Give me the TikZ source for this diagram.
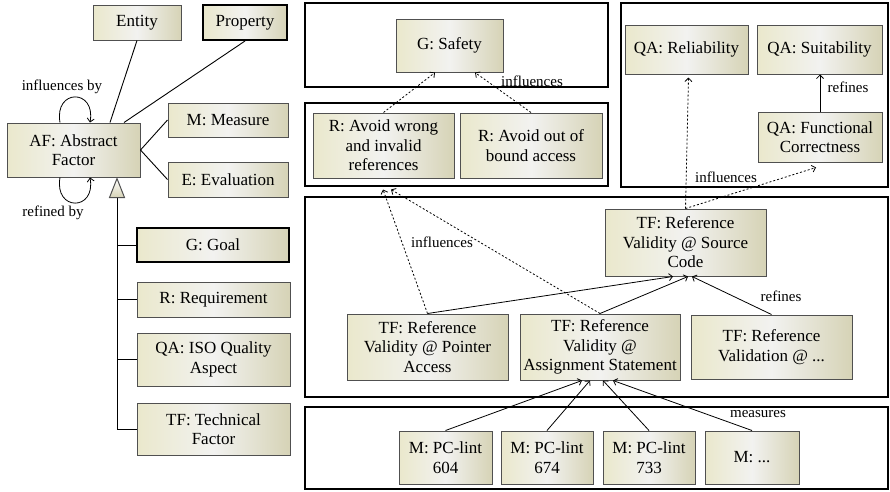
\documentclass[tikz,border=0pt]{standalone}
\usepackage{fontspec}
\setmainfont{Liberation Serif}
\usetikzlibrary{arrows.meta,calc,shadows}
\definecolor{boxL}{RGB}{234,232,204}
\definecolor{boxM}{RGB}{242,242,240}
\definecolor{boxR}{RGB}{214,211,182}
\definecolor{boxline}{RGB}{80,80,80}
\begin{document}
\begin{tikzpicture}[x=1pt,y=-1pt,
  box/.style={draw=boxline, line width=1pt, left color=boxL, right color=boxR, middle color=boxM,
    align=center, font=\fontsize{17}{19.5}\selectfont, inner sep=1pt,
    drop shadow={shadow xshift=1.2pt, shadow yshift=-1.2pt, opacity=0.18}},
  thickbox/.style={box, draw=black, line width=2pt},
  frame/.style={draw=black, line width=1.6pt},
  lbl/.style={font=\fontsize{15}{17}\selectfont, inner sep=0pt},
  conn/.style={-{Straight Barb[length=3.5pt,width=7pt]}, line width=0.8pt},
  dotconn/.style={conn, dash pattern=on 2pt off 2pt},
  plain/.style={line width=0.9pt}]
\fill[white] (0,0) rectangle (890,491);
\useasboundingbox (0,0) rectangle (890,491);

% ---------------- left legend ----------------
\node[box, minimum width=88pt, minimum height=35pt] (entity) at (137,22.5) {Entity};
\node[thickbox, minimum width=84pt, minimum height=35pt] (property) at (245,22.5) {Property};
\node[box, minimum width=133pt, minimum height=54pt] (af) at (73.5,150) {AF: Abstract\\Factor};
\node[box, minimum width=120pt, minimum height=34pt] (measure) at (228,120) {M: Measure};
\node[box, minimum width=120pt, minimum height=35pt] (evaluation) at (228,179.5) {E: Evaluation};
\node[thickbox, minimum width=152pt, minimum height=34pt] (goal) at (213,245) {G: Goal};
\node[box, minimum width=153pt, minimum height=35pt] (req) at (213.5,299.5) {R: Requirement};
\node[box, minimum width=153pt, minimum height=53pt] (qaiso) at (213.5,359.5) {QA: ISO Quality\\Aspect};
\node[box, minimum width=153pt, minimum height=52pt] (tftech) at (213.5,429) {TF: Technical\\Factor};

\draw[plain] ($(af.north)+(36.5,0)$) -- (entity.south);
\draw[plain] ($(af.north)+(50.5,0)$) -- (property.south);
\draw[plain] (af.east) -- (measure.west);
\draw[plain] (af.east) -- (evaluation.west);

% generalisation
\coordinate (tip) at ($(af.south)+(43.5,1)$);
\coordinate (tb) at ($(af.south)+(43.5,20)$);
\draw[plain] (tb) |- (goal.west);
\draw[plain] (tb) |- (req.west);
\draw[plain] (tb) |- (qaiso.west);
\draw[plain] (tb) |- (tftech.west);
\draw[draw=boxline, line width=1pt, top color=white, bottom color=boxR] (tip) -- ($(tb)+(-7.5,0)$) -- ($(tb)+(7.5,0)$) -- cycle;

% self loops
\coordinate (l1s) at ($(af.north)+(-13.5,0)$);
\coordinate (l1e) at ($(af.north)+(16.5,0)$);
\draw[conn] (l1s) .. controls ($(l1s)+(-6,-34)$) and ($(l1e)+(6,-34)$) .. (l1e);
\coordinate (l2s) at ($(af.south)+(-13.5,0)$);
\coordinate (l2e) at ($(af.south)+(16.5,0)$);
\draw[conn] (l2s) .. controls ($(l2s)+(-6,34)$) and ($(l2e)+(6,34)$) .. (l2e);
\node[lbl] (linfl) at (62,87) {influences by};
\node[lbl] (lref) at (53,213) {refined by};

% ---------------- frames ----------------
\draw[frame] (305,3) rectangle (608,87);
\draw[frame] (305,103) rectangle (608,186);
\draw[frame] (621,3) rectangle (888,187);
\draw[frame] (305,197) rectangle (888,397);
\draw[frame] (305,407) rectangle (888,489);

% ---------------- right nodes ----------------
\node[box, minimum width=107pt, minimum height=53pt] (safety) at (449.5,45.5) {G: Safety};
\node[box, minimum width=141pt, minimum height=65pt] (r1) at (383.5,145.5) {R: Avoid wrong\\and invalid\\references};
\node[box, minimum width=142pt, minimum height=65pt] (r2) at (531,145.5) {R: Avoid out of\\bound access};
\node[box, minimum width=123pt, minimum height=49pt] (rel) at (686.5,49.5) {QA: Reliability};
\node[box, minimum width=125pt, minimum height=49pt] (suit) at (819.5,49.5) {QA: Suitability};
\node[box, minimum width=124pt, minimum height=50pt] (fc) at (820,137) {QA: Functional\\Correctness};
\node[box, minimum width=161pt, minimum height=67pt] (sc) at (685.5,242.5) {TF: Reference\\Validity @ Source\\Code};
\node[box, minimum width=161pt, minimum height=66pt] (ptr) at (427.5,347) {TF: Reference\\Validity @ Pointer\\Access};
\node[box, minimum width=160pt, minimum height=66pt] (asg) at (600,347) {TF: Reference\\Validity @\\Assignment Statement};
\node[box, minimum width=161pt, minimum height=64pt] (val) at (771.5,347) {TF: Reference\\Validation @ ...};
\node[box, minimum width=93pt, minimum height=53pt] (m604) at (445.5,457.5) {M: PC-lint\\604};
\node[box, minimum width=92pt, minimum height=53pt] (m674) at (547,457.5) {M: PC-lint\\674};
\node[box, minimum width=92pt, minimum height=53pt] (m733) at (649,457.5) {M: PC-lint\\733};
\node[box, minimum width=94pt, minimum height=53pt] (mdots) at (752,457.5) {M: ...};

% ---------------- connectors ----------------
\draw[dotconn] (r1.north) -- ($(safety.south)+(-14.5,0)$);
\draw[dotconn] (r2.north) -- ($(safety.south)+(25.5,0)$);
\draw[dotconn] (ptr.north) -- ($(r1.south)+(-0.5,11)$);
\draw[dotconn] (asg.north) -- ($(r1.south)+(7.5,11)$);
\draw[dotconn] (sc.north) -- ($(rel.south)+(2,3)$);
\draw[dotconn] (sc.north) -- ($(fc.south)+(-4,5)$);
\draw[conn] (fc.north) -- (fc.north |- suit.south);
\draw[conn] (ptr.north) -- ($(sc.south)+(-12.5,0)$);
\draw[conn] (asg.north) -- ($(sc.south)+(2.5,0)$);
\draw[conn] (val.north) -- ($(sc.south)+(6.5,0)$);
\draw[conn] (m604.north) -- ($(asg.south)+(-18,0)$);
\draw[conn] (m674.north) -- ($(asg.south)+(-10,0)$);
\draw[conn] (m733.north) -- ($(asg.south)+(3,0)$);
\draw[conn] (mdots.north) -- ($(asg.south)+(13,0)$);

% ---------------- labels ----------------
\node[lbl] (li1) at (532,81) {influences};
\node[lbl] (li2) at (726,177) {influences};
\node[lbl] (lr1) at (848,87) {refines};
\node[lbl] (li3) at (442,242) {influences};
\node[lbl] (lr2) at (781,296) {refines};
\node[lbl] (lm) at (758,414) {measures};
\end{tikzpicture}
\end{document}
